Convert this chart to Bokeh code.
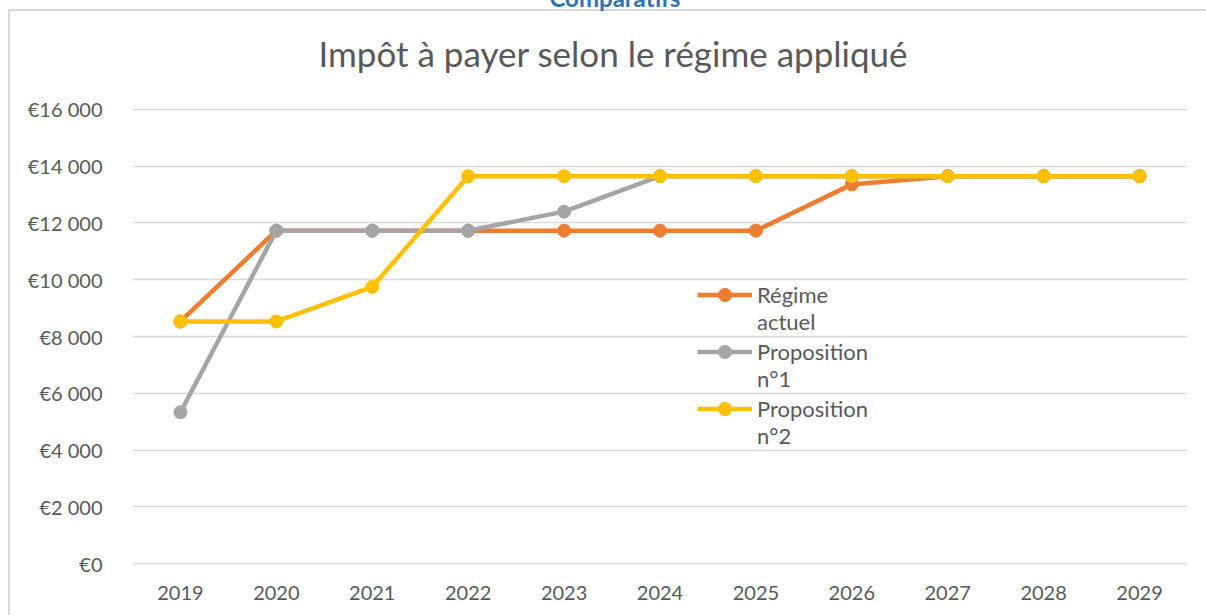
from bokeh.plotting import figure
from bokeh.models import Legend, LegendItem, Title, FixedTicker
from bokeh.embed import file_html
from bokeh.resources import INLINE

years = ["2019", "2020", "2021", "2022", "2023", "2024", "2025", "2026", "2027", "2028", "2029"]
regime_actuel = [8530, 11730, 11730, 11730, 11730, 11730, 11730, 13360, 13650, 13650, 13650]
proposition_1 = [5330, 11730, 11730, 11730, 12400, 13650, 13650, 13650, 13650, 13650, 13650]
proposition_2 = [8530, 8530, 9750, 13650, 13650, 13650, 13650, 13650, 13650, 13650, 13650]

series_names = ["Régime\nactuel", "Proposition\nn°1", "Proposition\nn°2"]
series_values = [regime_actuel, proposition_1, proposition_2]
series_colors = ["#ED7D31", "#A5A5A5", "#FFC000"]

y_ticks = [0, 2000, 4000, 6000, 8000, 10000, 12000, 14000, 16000]
y_tick_labels = ["€0", "€2 000", "€4 000", "€6 000", "€8 000", "€10 000", "€12 000", "€14 000", "€16 000"]

title_text = "Impôt à payer selon le régime appliqué"
header_text = "Comparatifs"

FONT = "Lato"
TXT = "#595959"
S = 32  # the page is scrolled so that the header is cut at the top, as in the source

p = figure(x_range=years, y_range=(-70, 16070), width=1206, height=615 + S,
           output_backend="svg", toolbar_location=None, title=header_text,
           min_border_left=132, min_border_right=19, min_border_top=106 + S, min_border_bottom=50)
p.styles = {
    "margin-top": f"-{S}px",
    "background-color": "white",
    "background-image": "linear-gradient(#D9D9D9, #D9D9D9), linear-gradient(#D9D9D9, #D9D9D9)",
    "background-repeat": "no-repeat",
    "background-size": "2px 800px, 1300px 2px",
    "background-position": f"8px {9 + S}px, 8px {9 + S}px",
}
p.outline_line_color = None
p.background_fill_color = "white"
p.border_fill_color = None

p.xgrid.grid_line_color = None
p.ygrid.grid_line_color = "#D9D9D9"
p.ygrid.grid_line_width = 1.3

p.yaxis.ticker = FixedTicker(ticks=y_ticks)
p.yaxis.major_label_overrides = {t: l for t, l in zip(y_ticks, y_tick_labels)}
for ax in (p.xaxis[0], p.yaxis[0]):
    ax.axis_line_color = None
    ax.major_tick_line_color = None
    ax.minor_tick_line_color = None
    ax.major_label_text_font = FONT
    ax.major_label_text_font_size = "20px"
    ax.major_label_text_color = TXT
p.yaxis.major_label_standoff = 24
p.xaxis.major_label_standoff = 14

legend_bottoms = [230, 173, 116]
for name, vals, col, lb in zip(series_names, series_values, series_colors, legend_bottoms):
    r1 = p.line(years, vals, line_color=col, line_width=4.5)
    r2 = p.scatter(years, vals, size=13, fill_color=col, line_color=col)
    # leading blank line keeps the glyph level with the first text line
    leg = Legend(items=[LegendItem(label="\n" + name, renderers=[r1, r2])],
                 location=(565, lb), background_fill_alpha=0,
                 border_line_color=None, padding=0, margin=0, spacing=0,
                 glyph_width=55, glyph_height=33, label_standoff=5,
                 label_text_font=FONT, label_text_font_size="22px",
                 label_text_line_height=1.23, label_text_color=TXT)
    p.add_layout(leg, "center")

# header (outermost title)
p.title.align = "left"
p.title.offset = 417
p.title.standoff = 25
p.title.text_font = FONT
p.title.text_font_style = "bold"
p.title.text_font_size = "24px"
p.title.text_color = "#2E74B5"

# spacer between chart title and plot area, then the chart title
p.add_layout(Title(text="\u00a0", text_font=FONT, text_font_size="21px", standoff=2), "above")
p.add_layout(Title(text=title_text, align="left", offset=186, standoff=10, text_font=FONT,
                   text_font_style="normal", text_font_size="35px", text_color=TXT), "above")

open("out.html", "w").write(file_html(p, INLINE))
